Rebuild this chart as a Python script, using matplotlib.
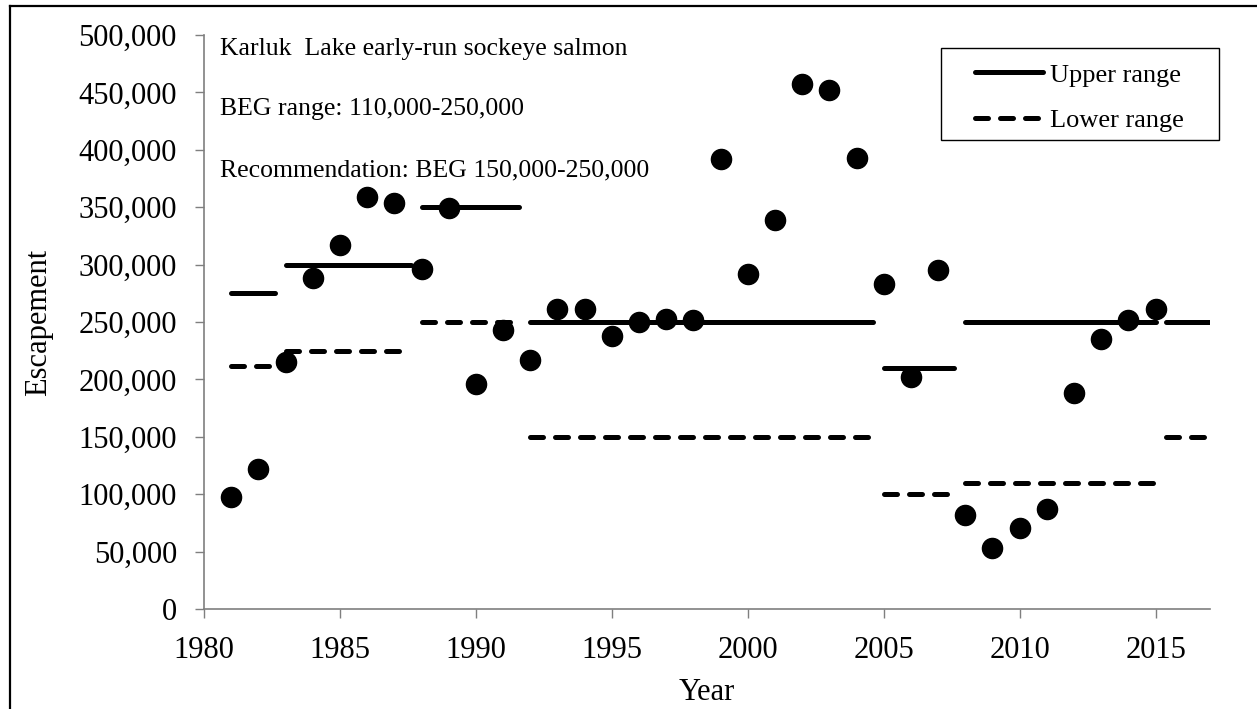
import matplotlib.pyplot as plt
from matplotlib.lines import Line2D
from matplotlib.patches import Rectangle
from matplotlib.ticker import FuncFormatter

# Escapement by year
years = list(range(1981, 2016))
escapement = [98000, 122000, 215000, 288000, 317000, 359000, 354000, 296000,
              349000, 196000, 243000, 217000, 261000, 261000, 238000, 250000,
              253000, 252000, 392000, 292000, 339000, 457000, 452000, 393000,
              283000, 202000, 295000, 82000, 53000, 71000, 87000, 188000,
              235000, 252000, 261000]

# goal periods: start, end, upper, lower
seg_start = [1981, 1983, 1988, 1992, 2005, 2008, 2015.4]
seg_end = [1982.6, 1987.6, 1991.6, 2004.6, 2007.6, 2015, 2017]
upper = [275000, 300000, 350000, 250000, 210000, 250000, 250000]
lower = [212000, 225000, 250000, 150000, 100000, 110000, 150000]

notes = ['Karluk  Lake early-run sockeye salmon',
         'BEG range: 110,000-250,000',
         'Recommendation: BEG 150,000-250,000']

plt.rcParams['font.family'] = ['Liberation Serif', 'DejaVu Serif']

fig = plt.figure(figsize=(12.57, 7.09), dpi=100)
ax = fig.add_axes([0.1623, 0.1410, 0.8003, 0.8096])

for s, e, u, l in zip(seg_start, seg_end, upper, lower):
    ax.plot([s, e], [u, u], color='black', lw=3.6, solid_capstyle='round', zorder=2)
    ax.plot([s, e], [l, l], color='black', lw=3.6, dashes=(2.6, 2.4),
            dash_capstyle='round', zorder=2)

ax.plot(years, escapement, 'o', color='black', ms=14.5, zorder=3)

ax.set_xlim(1980, 2017)
ax.set_ylim(0, 500000)
ax.set_xticks(range(1980, 2016, 5))
ax.set_yticks(range(0, 500001, 50000))
ax.yaxis.set_major_formatter(FuncFormatter(lambda v, p: f'{int(v):,}'))

for side in ['top', 'right']:
    ax.spines[side].set_visible(False)
for side in ['left', 'bottom']:
    ax.spines[side].set_color('#7f7f7f')
    ax.spines[side].set_linewidth(1.2)
ax.tick_params(axis='both', colors='#7f7f7f', length=6.5, width=1.0,
               labelcolor='black', labelsize=22)
ax.tick_params(axis='y', pad=13)
ax.tick_params(axis='x', pad=13)

ax.set_xlabel('Year', fontsize=22, labelpad=9)
ax.set_ylabel('Escapement', fontsize=22, labelpad=18)

for txt, yy in zip(notes, [0.965, 0.861, 0.753]):
    ax.text(0.016, yy, txt, transform=ax.transAxes, fontsize=18.5,
            va='baseline', ha='left')

handles = [Line2D([], [], color='black', lw=3.6, solid_capstyle='round'),
           Line2D([], [], color='black', lw=3.6, dashes=(2.6, 2.4), dash_capstyle='round')]
leg = fig.legend(handles, ['Upper range', 'Lower range'], loc='upper left',
                 bbox_to_anchor=(0.7757, 0.911), fontsize=19, frameon=False,
                 handlelength=2.58, handletextpad=0.26, labelspacing=0.85,
                 borderpad=0, borderaxespad=0)

# legend box
fig.add_artist(Rectangle((0.7486, 0.8025), 0.2212, 0.1298, transform=fig.transFigure,
                         facecolor='none', edgecolor='black', lw=1.0))

# outer chart frame (top and left edges visible)
fig.add_artist(Line2D([0.008, 1.0], [0.9915, 0.9915], color='black', lw=1.6,
                      transform=fig.transFigure))
fig.add_artist(Line2D([0.008, 0.008], [0.0, 0.9915], color='black', lw=1.6,
                      transform=fig.transFigure))

fig.savefig('out.png', dpi=100)
